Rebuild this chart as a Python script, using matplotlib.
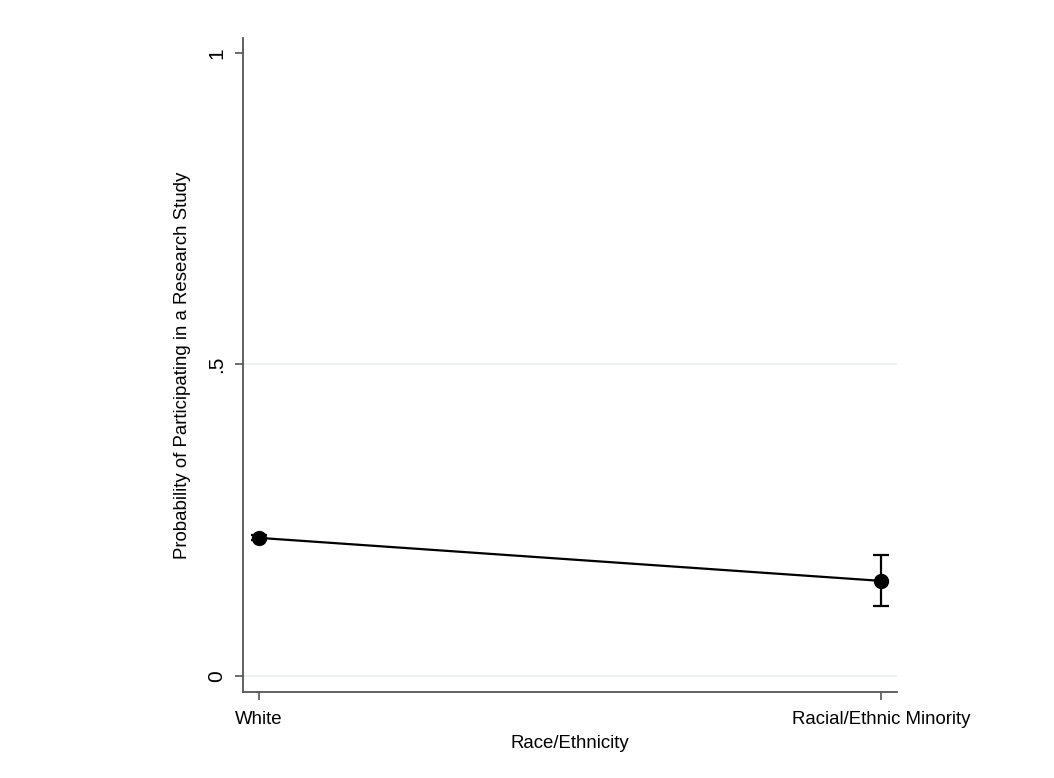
import matplotlib.pyplot as plt

# predicted probabilities
groups = ["White", "Racial/Ethnic Minority"]
prob = [0.2215, 0.1525]
ci_low = [0.2175, 0.112]
ci_high = [0.2255, 0.194]
yticks = [0, 0.5, 1]
ytick_labels = ["0", ".5", "1"]

plt.rcParams["font.family"] = ["Liberation Sans", "DejaVu Sans"]

fig = plt.figure(figsize=(10.54, 7.78), dpi=100)
ax = fig.add_axes([0.2306, 0.1105, 0.6205, 0.8405])

x = list(range(len(groups)))
yerr = [[p - lo for p, lo in zip(prob, ci_low)],
        [hi - p for p, hi in zip(prob, ci_high)]]

for yv in (0, 0.5):
    ax.axhline(yv, color="#eaf2f3", lw=1.5, zorder=0)

ax.errorbar(x, prob, yerr=yerr, color="black", lw=1.6, marker="o",
            markersize=10, capsize=6, capthick=1.6, elinewidth=1.6)

ax.set_xlim(-0.026, 1.026)
ax.set_ylim(-0.026, 1.024)
ax.set_xticks(x)
ax.set_xticklabels(groups, fontsize=13.4)
ax.set_yticks(yticks)
ax.set_yticklabels(ytick_labels, fontsize=15, rotation=90, va="center")

for s in ("top", "right"):
    ax.spines[s].set_visible(False)
for s in ("left", "bottom"):
    ax.spines[s].set_color("#555555")
    ax.spines[s].set_linewidth(1.3)
ax.tick_params(axis="both", color="#555555", length=6, width=1.2, pad=6)
ax.tick_params(axis="x", pad=8)

ax.set_xlabel("Race/Ethnicity", fontsize=13.4, labelpad=5)
ax.set_ylabel("Probability of Participating in a Research Study",
              fontsize=13.4, labelpad=12)

fig.savefig("out.png", dpi=100)
